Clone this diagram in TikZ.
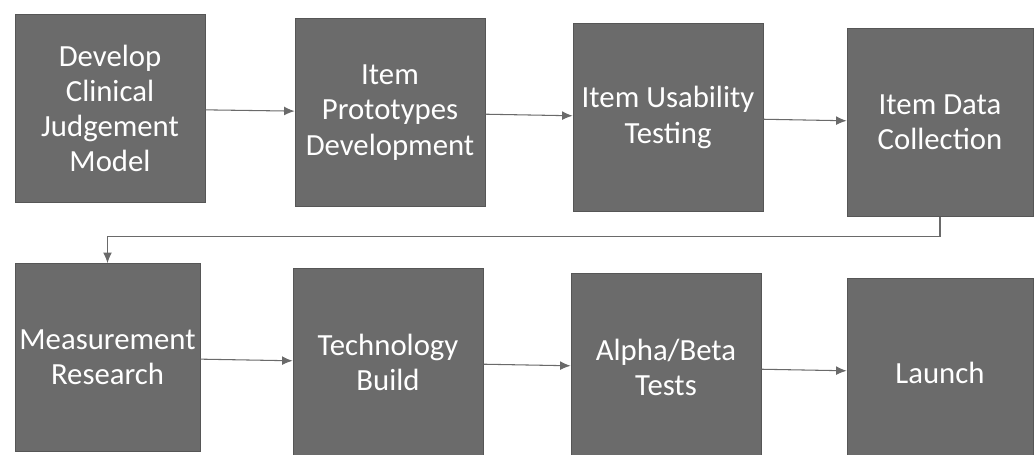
\documentclass[tikz,border=0pt]{standalone}
\usepackage{fontspec}
\setmainfont{Carlito}
\usepackage{xcolor}
\usepackage{tikz}
\usetikzlibrary{calc,arrows.meta}

\definecolor{boxgray}{HTML}{6B6B6B}
\definecolor{linegray}{HTML}{6A6A6A}

\begin{document}
\begin{tikzpicture}[>={Latex[length=6pt,width=5pt]},
    stage/.style={draw=boxgray!80!black,fill=boxgray,text=white,
      minimum width=3.8cm,minimum height=3.76cm,inner sep=0pt,
      align=center,font=\fontsize{17.5}{20}\selectfont},
    flow/.style={->,draw=linegray,line width=0.6pt}]

    \useasboundingbox (0,0) rectangle (20.68,9.1);

    % Top row
    \node[stage] (model)  at (2.2,6.93)  {Develop\\Clinical\\Judgement\\Model};
    \node[stage] (proto)  at (7.8,6.85)  {Item\\Prototypes\\Development};
    \node[stage] (usab)   at (13.36,6.75) {Item Usability\\Testing};
    \node[stage,minimum width=3.72cm] (datacol) at (18.8,6.65) {Item Data\\Collection};

    % Bottom row
    \node[stage,minimum width=3.7cm] (measure) at (2.15,1.95) {Measurement\\Research};
    \node[stage] (techb)  at (7.76,1.85) {Technology\\Build};
    \node[stage] (alpha)  at (13.32,1.75) {Alpha/Beta\\Tests};
    \node[stage,minimum width=3.72cm] (launch) at (18.8,1.65) {Launch};

    % Arrows along the rows
    \draw[flow] (model) -- (proto);
    \draw[flow] (proto) -- (usab);
    \draw[flow] (usab) -- (datacol);
    \draw[flow] (measure) -- (techb);
    \draw[flow] (techb) -- (alpha);
    \draw[flow] (alpha) -- (launch);

    % Back to the start of the second row
    \coordinate (turn) at ($(datacol.south)+(0,-0.4)$);
    \draw[flow] (datacol.south) -- (turn) -| (measure.north);

\end{tikzpicture}
\end{document}
